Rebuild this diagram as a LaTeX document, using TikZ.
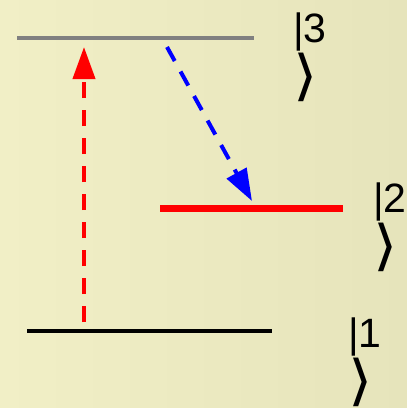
\documentclass[tikz,border=0pt]{standalone}
\usepackage{fontspec}
\setmainfont{Liberation Sans}
\newfontfamily\ketfont{DejaVu Sans}
\usepackage{xcolor}
\usetikzlibrary{arrows.meta}

\definecolor{paperlight}{RGB}{241,239,198}
\definecolor{paperdark}{RGB}{230,228,187}
\newcommand{\ketclose}{{\ketfont\fontsize{52}{50}\selectfont\scalebox{1.2}[1.05]{⟩}}}

\begin{document}
\begin{tikzpicture}[
  x=1pt, y=-1pt,
  level/.style={line width=4pt},
  excite/.style={red, line width=4pt, dash pattern=on 16pt off 12pt, -{Triangle[width=22pt,length=32pt]}},
  decay/.style={blue, line width=4pt, dash pattern=on 16pt off 12pt, -{Triangle[width=22pt,length=32pt]}},
  ket/.style={anchor=base west, inner sep=0pt, align=left, font=\fontsize{41}{50}\selectfont}
]
\shade[shading angle=135, left color=paperlight, right color=paperdark] (0,0) rectangle (407,408);
\useasboundingbox (0,0) rectangle (407,408);

% energy levels
\coordinate (l3a) at (17,38);
\coordinate (l3b) at (254,38);
\coordinate (l2a) at (160,208.5);
\coordinate (l2b) at (343,208.5);
\coordinate (l1a) at (27,330.5);
\coordinate (l1b) at (272,330.5);
\draw[level, gray] (l3a) -- (l3b);
\draw[level, red, line width=6.5pt] (l2a) -- (l2b);
\draw[level, black] (l1a) -- (l1b);

% labels (base = last line)
\node[ket] (k3) at (293,94) {|3\\\ketclose};
\node[ket] (k2) at (373,264) {|2\\\ketclose};
\node[ket] (k1) at (348,399) {|1\\\ketclose};

% transitions
\coordinate (pumpfrom) at (84,322);
\coordinate (pumpto) at (84,47);
\coordinate (decayfrom) at (167,47);
\coordinate (decayto) at (252,201);
\draw[excite] (pumpfrom) -- (pumpto);
\draw[decay] (decayfrom) -- (decayto);
\end{tikzpicture}
\end{document}
